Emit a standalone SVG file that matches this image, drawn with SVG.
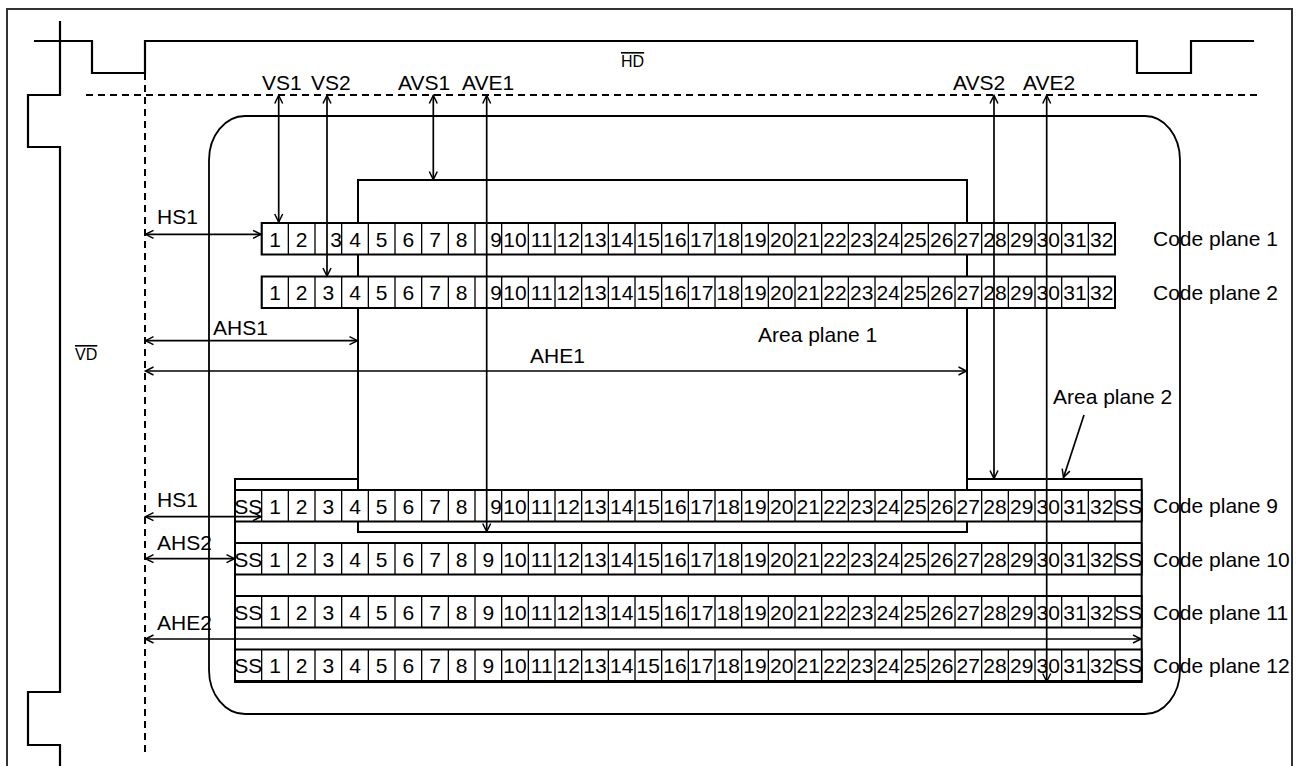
<svg xmlns="http://www.w3.org/2000/svg" width="1300" height="766" viewBox="0 0 1300 766">
<style>
text{font-family:"Liberation Sans",Arial,sans-serif;font-size:21px;fill:#000}
.d text{text-anchor:middle}
.sm{font-size:16px;text-decoration:overline}
.w{fill:none;stroke:#000;stroke-width:2.2}
.dash{fill:none;stroke:#000;stroke-width:2;stroke-dasharray:7 5}
.ln{fill:none;stroke:#000;stroke-width:1.8}
.box{fill:#fff;stroke:#000;stroke-width:2}
.row{fill:#fff;stroke:#000;stroke-width:2}
.div{fill:none;stroke:#000;stroke-width:1.3}
.ar{fill:none;stroke:#000;stroke-width:1.7;marker-start:url(#ah);marker-end:url(#ah)}
.ar1{fill:none;stroke:#000;stroke-width:1.7;marker-end:url(#ah)}
</style>
<defs>
<marker id="ah" viewBox="-10 -6 12 12" refX="0" refY="0" markerWidth="12" markerHeight="12" markerUnits="userSpaceOnUse" orient="auto-start-reverse" overflow="visible">
<path d="M-8,-4 L0,0 L-8,4" fill="none" stroke="#000" stroke-width="1.5"/>
</marker>
<path id="dv" class="div" d="M261.67,0v31.5m26.667,-31.5v31.5m26.667,-31.5v31.5m26.667,-31.5v31.5m26.667,-31.5v31.5m26.667,-31.5v31.5m26.667,-31.5v31.5m26.667,-31.5v31.5m26.667,-31.5v31.5m26.667,-31.5v31.5m26.667,-31.5v31.5m26.667,-31.5v31.5m26.667,-31.5v31.5m26.667,-31.5v31.5m26.667,-31.5v31.5m26.667,-31.5v31.5m26.667,-31.5v31.5m26.667,-31.5v31.5m26.667,-31.5v31.5m26.667,-31.5v31.5m26.667,-31.5v31.5m26.667,-31.5v31.5m26.667,-31.5v31.5m26.667,-31.5v31.5m26.667,-31.5v31.5m26.667,-31.5v31.5m26.667,-31.5v31.5m26.667,-31.5v31.5m26.667,-31.5v31.5m26.667,-31.5v31.5m26.667,-31.5v31.5m26.667,-31.5v31.5m26.667,-31.5v31.5"/>
</defs>
<rect width="1300" height="766" fill="#fff"/>
<g id="frame"><path d="M7,800V9H1292V800" fill="none" stroke="#333" stroke-width="2"/></g>
<g id="hd-signal"><path class="w" d="M34,41H92V73H145V41H1137V73H1191V41H1254"/><text class="sm" x="621" y="67">HD</text></g>
<g id="vd-signal"><path class="w" d="M60,21V95H28V147H60V692H28V745H60V780"/><text class="sm" x="75" y="360">VD</text></g>
<g id="reference-lines"><path class="dash" d="M86,95H1257"/><path class="dash" d="M145,73V752"/></g>
<g id="screen"><path class="ln" d="M245,116H1145A35,44 0 0 1 1180,160V670A35,44 0 0 1 1145,714H245A36,44 0 0 1 209,670V160A36,44 0 0 1 245,116Z"/></g>
<g id="area-plane-2"><rect class="box" x="235" y="479" width="906.67" height="203"/></g>
<g id="area-plane-1"><rect class="box" x="358" y="180" width="609" height="352"/><text x="758" y="342">Area plane 1</text></g>
<g id="code-plane-1">
<rect class="row" x="261.67" y="223" width="853.33" height="31.5"/><use href="#dv" transform="translate(0,223)"/>
<g class="d" transform="translate(0,246.5)"><text x="275">1</text><text x="301.7">2</text><text x="336">3</text><text x="355">4</text><text x="381.7">5</text><text x="408.3">6</text><text x="435">7</text><text x="461.7">8</text><text x="496">9</text><text x="515">10</text><text x="541.7">11</text><text x="568.3">12</text><text x="595">13</text><text x="621.7">14</text><text x="648.3">15</text><text x="675">16</text><text x="701.7">17</text><text x="728.3">18</text><text x="755">19</text><text x="781.7">20</text><text x="808.3">21</text><text x="835">22</text><text x="861.7">23</text><text x="888.3">24</text><text x="915">25</text><text x="941.7">26</text><text x="968.3">27</text><text x="995">28</text><text x="1021.7">29</text><text x="1048.3">30</text><text x="1075">31</text><text x="1101.7">32</text></g>
<text x="1153" y="246">Code plane 1</text></g>
<g id="code-plane-2">
<rect class="row" x="261.67" y="276.5" width="853.33" height="31.5"/><use href="#dv" transform="translate(0,276.5)"/>
<g class="d" transform="translate(0,300)"><text x="275">1</text><text x="301.7">2</text><text x="328.3">3</text><text x="355">4</text><text x="381.7">5</text><text x="408.3">6</text><text x="435">7</text><text x="461.7">8</text><text x="496">9</text><text x="515">10</text><text x="541.7">11</text><text x="568.3">12</text><text x="595">13</text><text x="621.7">14</text><text x="648.3">15</text><text x="675">16</text><text x="701.7">17</text><text x="728.3">18</text><text x="755">19</text><text x="781.7">20</text><text x="808.3">21</text><text x="835">22</text><text x="861.7">23</text><text x="888.3">24</text><text x="915">25</text><text x="941.7">26</text><text x="968.3">27</text><text x="995">28</text><text x="1021.7">29</text><text x="1048.3">30</text><text x="1075">31</text><text x="1101.7">32</text></g>
<text x="1153" y="300">Code plane 2</text></g>
<g id="code-plane-9">
<rect class="row" x="235" y="490" width="906.67" height="31.5"/><use href="#dv" transform="translate(0,490)"/>
<g class="d" transform="translate(0,513.5)"><text x="248.3">SS</text><text x="275">1</text><text x="301.7">2</text><text x="328.3">3</text><text x="355">4</text><text x="381.7">5</text><text x="408.3">6</text><text x="435">7</text><text x="461.7">8</text><text x="496">9</text><text x="515">10</text><text x="541.7">11</text><text x="568.3">12</text><text x="595">13</text><text x="621.7">14</text><text x="648.3">15</text><text x="675">16</text><text x="701.7">17</text><text x="728.3">18</text><text x="755">19</text><text x="781.7">20</text><text x="808.3">21</text><text x="835">22</text><text x="861.7">23</text><text x="888.3">24</text><text x="915">25</text><text x="941.7">26</text><text x="968.3">27</text><text x="995">28</text><text x="1021.7">29</text><text x="1048.3">30</text><text x="1075">31</text><text x="1101.7">32</text><text x="1128.3">SS</text></g>
<text x="1153" y="513">Code plane 9</text></g>
<g id="code-plane-10">
<rect class="row" x="235" y="543" width="906.67" height="31.5"/><use href="#dv" transform="translate(0,543)"/>
<g class="d" transform="translate(0,566.5)"><text x="248.3">SS</text><text x="275">1</text><text x="301.7">2</text><text x="328.3">3</text><text x="355">4</text><text x="381.7">5</text><text x="408.3">6</text><text x="435">7</text><text x="461.7">8</text><text x="488.3">9</text><text x="515">10</text><text x="541.7">11</text><text x="568.3">12</text><text x="595">13</text><text x="621.7">14</text><text x="648.3">15</text><text x="675">16</text><text x="701.7">17</text><text x="728.3">18</text><text x="755">19</text><text x="781.7">20</text><text x="808.3">21</text><text x="835">22</text><text x="861.7">23</text><text x="888.3">24</text><text x="915">25</text><text x="941.7">26</text><text x="968.3">27</text><text x="995">28</text><text x="1021.7">29</text><text x="1048.3">30</text><text x="1075">31</text><text x="1101.7">32</text><text x="1128.3">SS</text></g>
<text x="1153" y="567">Code plane 10</text></g>
<g id="code-plane-11">
<rect class="row" x="235" y="596" width="906.67" height="31.5"/><use href="#dv" transform="translate(0,596)"/>
<g class="d" transform="translate(0,619.5)"><text x="248.3">SS</text><text x="275">1</text><text x="301.7">2</text><text x="328.3">3</text><text x="355">4</text><text x="381.7">5</text><text x="408.3">6</text><text x="435">7</text><text x="461.7">8</text><text x="488.3">9</text><text x="515">10</text><text x="541.7">11</text><text x="568.3">12</text><text x="595">13</text><text x="621.7">14</text><text x="648.3">15</text><text x="675">16</text><text x="701.7">17</text><text x="728.3">18</text><text x="755">19</text><text x="781.7">20</text><text x="808.3">21</text><text x="835">22</text><text x="861.7">23</text><text x="888.3">24</text><text x="915">25</text><text x="941.7">26</text><text x="968.3">27</text><text x="995">28</text><text x="1021.7">29</text><text x="1048.3">30</text><text x="1075">31</text><text x="1101.7">32</text><text x="1128.3">SS</text></g>
<text x="1153" y="620">Code plane 11</text></g>
<g id="code-plane-12">
<rect class="row" x="235" y="649.5" width="906.67" height="31.5"/><use href="#dv" transform="translate(0,649.5)"/>
<g class="d" transform="translate(0,673)"><text x="248.3">SS</text><text x="275">1</text><text x="301.7">2</text><text x="328.3">3</text><text x="355">4</text><text x="381.7">5</text><text x="408.3">6</text><text x="435">7</text><text x="461.7">8</text><text x="488.3">9</text><text x="515">10</text><text x="541.7">11</text><text x="568.3">12</text><text x="595">13</text><text x="621.7">14</text><text x="648.3">15</text><text x="675">16</text><text x="701.7">17</text><text x="728.3">18</text><text x="755">19</text><text x="781.7">20</text><text x="808.3">21</text><text x="835">22</text><text x="861.7">23</text><text x="888.3">24</text><text x="915">25</text><text x="941.7">26</text><text x="968.3">27</text><text x="995">28</text><text x="1021.7">29</text><text x="1048.3">30</text><text x="1075">31</text><text x="1101.7">32</text><text x="1128.3">SS</text></g>
<text x="1153" y="673">Code plane 12</text></g>
<g id="connectors">
<path class="ar" d="M278.7,95.5V222"/>
<path class="ar" d="M327,95.5V276"/>
<path class="ar" d="M433.3,95.5V179.5"/>
<path class="ar" d="M486.7,95.5V531.5"/>
<path class="ar" d="M994,95.5V478.5"/>
<path class="ar" d="M1046.7,95.5V681.5"/>
<path class="ar" d="M145.5,234.3H261"/>
<path class="ar" d="M145.5,340.7H357.5"/>
<path class="ar" d="M145.5,371H966.5"/>
<path class="ar" d="M145.5,516.7H261"/>
<path class="ar" d="M145.5,558.7H234.5"/>
<path class="ar" d="M145.5,639H1141"/>
<path class="ar1" d="M1084,415L1063.5,477.5"/>
</g>
<g id="labels">
<text x="262" y="90">VS1</text><text x="311" y="90">VS2</text>
<text x="398" y="90">AVS1</text><text x="462" y="90">AVE1</text>
<text x="953" y="90">AVS2</text><text x="1023" y="90">AVE2</text>
<text x="157" y="224">HS1</text>
<text x="213" y="335">AHS1</text>
<text x="530" y="363">AHE1</text>
<text x="1053" y="404">Area plane 2</text>
<text x="157" y="507">HS1</text>
<text x="157" y="550">AHS2</text>
<text x="157" y="630">AHE2</text>
</g>
</svg>
